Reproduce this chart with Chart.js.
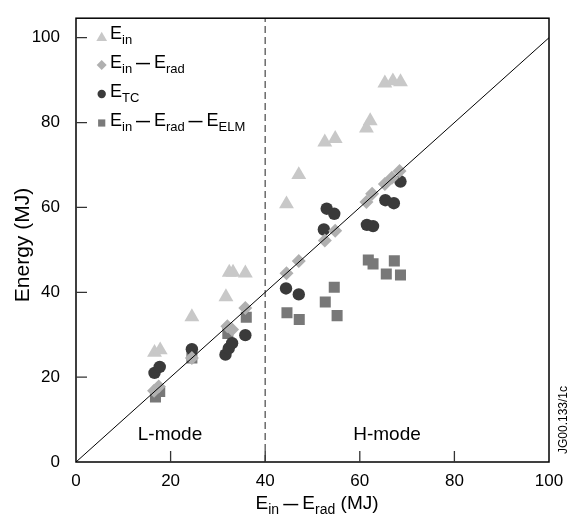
<!DOCTYPE html>
<html>
<head>
<meta charset="utf-8">
<script src="https://cdn.jsdelivr.net/npm/chart.js@4/dist/chart.umd.min.js"></script>
<style>
  body { margin: 0; background: #fff; }
</style>
</head>
<body>
<canvas id="myChart" width="579" height="516"></canvas>
<script>
// values (MJ)
const einX = [16.6, 17.8, 24.5, 31.7, 32.4, 33.2, 35.8, 44.5, 47.1, 52.6, 54.8, 61.4, 62.2, 65.3, 67.0, 68.6];
const einY = [25.8, 26.4, 34.2, 38.9, 44.7, 44.7, 44.5, 60.8, 67.7, 75.4, 76.2, 78.7, 80.4, 89.3, 89.8, 89.6];

const radX = [16.5, 17.5, 24.5, 32.0, 33.0, 35.8, 44.5, 47.1, 52.6, 54.8, 61.4, 62.6, 65.3, 66.8, 68.4];
const radY = [16.8, 17.8, 24.5, 32.0, 31.2, 36.3, 44.5, 47.4, 52.2, 54.5, 61.3, 63.2, 65.5, 67.0, 68.6];

const tcX = [16.6, 17.7, 24.5, 31.6, 32.3, 33.0, 35.8, 44.4, 47.1, 53.0, 54.6, 52.4, 61.5, 62.8, 65.4, 67.2, 68.6];
const tcY = [21.0, 22.4, 26.6, 25.3, 26.8, 28.0, 29.9, 40.9, 39.5, 59.7, 58.5, 54.8, 55.9, 55.6, 61.7, 61.0, 66.1];

const elmX = [16.8, 17.7, 24.5, 32.1, 36.0, 44.6, 47.2, 52.7, 54.6, 55.2, 61.8, 62.8, 65.6, 67.3, 68.6];
const elmY = [15.3, 16.6, 24.5, 30.3, 34.1, 35.2, 33.6, 37.7, 41.2, 34.5, 47.6, 46.7, 44.3, 47.4, 44.1];

const diagX = [0, 100];
const diagY = [0, 100];
const modeSplit = 40;

const xTicks = [0, 20, 40, 60, 80, 100];
const yTicks = [0, 20, 40, 60, 80, 100];
const yMax = 104.6;

const FONT = '"Liberation Sans", Arial, Helvetica, sans-serif';

const pts = (xs, ys) => xs.map((x, i) => ({ x: x, y: ys[i] }));

// text with subscripts: parts are [text, isSub, isDash]
function fontFor(p, size) {
    if (p[2]) return 'bold ' + Math.round(size * 0.8) + 'px ' + FONT;
    if (p[1]) return Math.round(size * 0.72) + 'px ' + FONT;
    return size + 'px ' + FONT;
}
function richWidth(ctx, parts, size) {
    let w = 0;
    parts.forEach(p => {
        ctx.font = fontFor(p, size);
        w += ctx.measureText(p[0]).width;
    });
    return w;
}
function drawRich(ctx, parts, x, y, size) {
    ctx.textBaseline = 'alphabetic';
    ctx.textAlign = 'left';
    parts.forEach(p => {
        ctx.font = fontFor(p, size);
        ctx.fillText(p[0], x, p[1] ? y + size * 0.28 : y);
        x += ctx.measureText(p[0]).width;
    });
}

function marker(ctx, style, x, y, r, color) {
    ctx.fillStyle = color;
    ctx.beginPath();
    if (style === 'triangle') {
        ctx.moveTo(x, y - r);
        ctx.lineTo(x + r * 0.866, y + r / 2);
        ctx.lineTo(x - r * 0.866, y + r / 2);
    } else if (style === 'rectRot') {
        ctx.moveTo(x, y - r);
        ctx.lineTo(x + r, y);
        ctx.lineTo(x, y + r);
        ctx.lineTo(x - r, y);
    } else if (style === 'circle') {
        ctx.arc(x, y, r, 0, Math.PI * 2);
    } else {
        ctx.rect(x - r, y - r, 2 * r, 2 * r);
    }
    ctx.closePath();
    ctx.fill();
}

const legendRows = [
    { style: 'triangle', r: 6.2, color: '#c8c8c8', dy: 2, parts: [['E'], ['in', 1]] },
    { style: 'rectRot', r: 5, color: '#b0b0b0', dy: 0, parts: [['E'], ['in', 1], [' \u2014 ', 0, 1], ['E'], ['rad', 1]] },
    { style: 'circle', r: 4.2, color: '#3a3a3a', dy: 0, parts: [['E'], ['TC', 1]] },
    { style: 'rect', r: 3.6, color: '#7a7a7a', dy: 0, parts: [['E'], ['in', 1], [' \u2014 ', 0, 1], ['E'], ['rad', 1], [' \u2014 ', 0, 1], ['E'], ['ELM', 1]] }
];

const decor = {
    id: 'decor',
    afterDatasetsDraw(chart) {
        const ctx = chart.ctx;
        const a = chart.chartArea;
        const xs = chart.scales.x, ys = chart.scales.y;
        ctx.save();
        // frame
        ctx.strokeStyle = '#000';
        ctx.lineWidth = 1.5;
        ctx.strokeRect(a.left, a.top, a.right - a.left, a.bottom - a.top);
        // inward ticks
        ctx.strokeStyle = '#333';
        ctx.lineWidth = 1.3;
        ctx.beginPath();
        xTicks.slice(1, -1).forEach(v => {
            const px = xs.getPixelForValue(v);
            ctx.moveTo(px, a.bottom);
            ctx.lineTo(px, a.bottom - 11);
        });
        yTicks.slice(1).forEach(v => {
            const py = ys.getPixelForValue(v);
            ctx.moveTo(a.left, py);
            ctx.lineTo(a.left + 11, py);
        });
        ctx.stroke();

        // legend
        legendRows.forEach((row, i) => {
            const base = 39 + i * 29;
            marker(ctx, row.style, 101.7, base - 3 + row.dy, row.r, row.color);
            ctx.fillStyle = '#000';
            drawRich(ctx, row.parts, 110, base, 18);
        });

        // mode labels
        ctx.fillStyle = '#000';
        ctx.font = '19px ' + FONT;
        ctx.textAlign = 'center';
        ctx.textBaseline = 'alphabetic';
        ctx.fillText('L-mode', 170, 440);
        ctx.fillText('H-mode', 387, 440);

        // axis titles
        const xt = [['E'], ['in', 1], [' \u2014 ', 0, 1], ['E'], ['rad', 1], [' (MJ)']];
        const w = richWidth(ctx, xt, 19);
        drawRich(ctx, xt, 317 - w / 2, 509, 19);

        ctx.save();
        ctx.translate(29, 245);
        ctx.rotate(-Math.PI / 2);
        ctx.font = '21px ' + FONT;
        ctx.textAlign = 'center';
        ctx.fillText('Energy (MJ)', 0, 0);
        ctx.restore();

        ctx.save();
        ctx.translate(567, 420);
        ctx.rotate(-Math.PI / 2);
        ctx.font = '12px ' + FONT;
        ctx.textAlign = 'center';
        ctx.fillText('JG00.133/1c', 0, 0);
        ctx.restore();

        ctx.restore();
    }
};

const data = {
    datasets: [
        {
            type: 'line',
            label: 'y = x',
            data: pts(diagX, diagY),
            borderColor: '#000',
            borderWidth: 1,
            pointRadius: 0
        },
        {
            type: 'line',
            label: 'L/H',
            data: [{ x: modeSplit, y: 0 }, { x: modeSplit, y: yMax }],
            borderColor: '#6a6a6a',
            borderWidth: 1.5,
            borderDash: [7, 4],
            pointRadius: 0
        },
        {
            label: 'E_in',
            data: pts(einX, einY),
            pointStyle: 'triangle',
            pointRadius: 8.6,
            backgroundColor: '#c8c8c8',
            borderWidth: 0
        },
        {
            label: 'E_in - E_rad',
            data: pts(radX, radY),
            pointStyle: 'rectRot',
            pointRadius: 7,
            backgroundColor: '#b0b0b0',
            borderWidth: 0
        },
        {
            label: 'E_TC',
            data: pts(tcX, tcY),
            pointStyle: 'circle',
            pointRadius: 6.2,
            backgroundColor: '#3a3a3a',
            borderWidth: 0
        },
        {
            label: 'E_in - E_rad - E_ELM',
            data: pts(elmX, elmY),
            pointStyle: 'rect',
            pointRadius: 7.8,
            backgroundColor: '#787878',
            borderWidth: 0
        }
    ]
};

const config = {
    type: 'scatter',
    data: data,
    options: {
        responsive: false,
        animation: false,
        layout: { padding: { top: 9, right: 30, left: 0, bottom: 0 } },
        plugins: { legend: { display: false }, tooltip: { enabled: false } },
        elements: { line: { tension: 0 } },
        scales: {
            x: {
                type: 'linear',
                min: 0,
                max: 100,
                afterBuildTicks: s => { s.ticks = xTicks.map(v => ({ value: v })); },
                afterFit: s => { s.height = 54; },
                grid: { display: false },
                border: { display: false },
                ticks: { color: '#000', padding: 1, maxRotation: 0, font: { family: FONT, size: 17 } }
            },
            y: {
                type: 'linear',
                min: 0,
                max: yMax,
                afterBuildTicks: s => { s.ticks = yTicks.map(v => ({ value: v })); },
                afterFit: s => { s.width = 76; },
                grid: { display: false },
                border: { display: false },
                ticks: { color: '#000', padding: 8, font: { family: FONT, size: 17 } }
            }
        }
    },
    plugins: [decor]
};

const myChart = new Chart(document.getElementById('myChart'), config);
</script>
</body>
</html>
